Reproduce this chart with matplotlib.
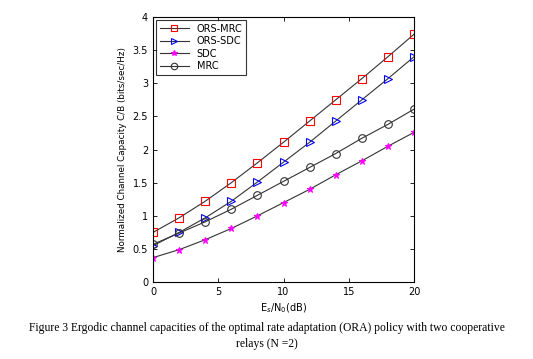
import matplotlib
matplotlib.use('Agg')
import matplotlib.pyplot as plt
import numpy as np

# Es/N0 in dB
snr_db = [0, 2, 4, 6, 8, 10, 12, 14, 16, 18, 20]

ors_mrc = [0.75, 0.97, 1.22, 1.50, 1.80, 2.11, 2.43, 2.75, 3.07, 3.40, 3.74]
ors_sdc = [0.55, 0.75, 0.97, 1.22, 1.51, 1.81, 2.11, 2.43, 2.75, 3.07, 3.40]
sdc = [0.37, 0.49, 0.64, 0.81, 1.00, 1.20, 1.40, 1.62, 1.83, 2.05, 2.26]
mrc = [0.57, 0.74, 0.91, 1.10, 1.31, 1.52, 1.73, 1.94, 2.17, 2.38, 2.61]

fig = plt.figure(figsize=(5.33, 3.59), dpi=100)
ax = fig.add_axes([0.287, 0.214, 0.49, 0.739])

ax.plot(snr_db, ors_mrc, color='#333333', lw=0.8, marker='s', ms=5.5,
        mfc='none', mec='red', mew=0.8, label='ORS-MRC')
ax.plot(snr_db, ors_sdc, color='#333333', lw=0.8, marker='>', ms=5.5,
        mfc='none', mec='blue', mew=0.8, label='ORS-SDC')
ax.plot(snr_db, sdc, color='#333333', lw=0.8, marker='*', ms=5,
        mfc='magenta', mec='magenta', mew=0.8, label='SDC')
ax.plot(snr_db, mrc, color='#333333', lw=0.8, marker='o', ms=5.5,
        mfc='none', mec='#333333', mew=0.8, label='MRC')

ax.set_xlim(0, 20)
ax.set_ylim(0, 4)
ax.set_xticks([0, 5, 10, 15, 20])
ax.set_yticks(np.arange(0, 4.01, 0.5))
ax.set_yticklabels(['0', '0.5', '1', '1.5', '2', '2.5', '3', '3.5', '4'])
ax.tick_params(direction='in', top=True, right=True, labelsize=7, length=3, width=0.6)
for s in ax.spines.values():
    s.set_linewidth(0.8)

ax.set_xlabel(r'E$_s$/N$_0$(dB)', fontsize=7, labelpad=3)
ax.set_ylabel('Normalized Channel Capacity C/B (bits/sec/Hz)', fontsize=6.3, labelpad=4)

leg = ax.legend(loc='upper left', fontsize=7, frameon=True, fancybox=False,
                edgecolor='black', borderaxespad=0.3, handlelength=3,
                labelspacing=0.25, markerscale=0.85)
leg.get_frame().set_linewidth(0.8)

fig.text(0.5, 0.078, 'Figure 3 Ergodic channel capacities of the optimal rate adaptation (ORA) policy with two cooperative',
         ha='center', fontsize=8.4, family='Liberation Serif')
fig.text(0.5, 0.033, 'relays (N =2)', ha='center', fontsize=8.4, family='Liberation Serif')

fig.savefig('out.png', dpi=100)
